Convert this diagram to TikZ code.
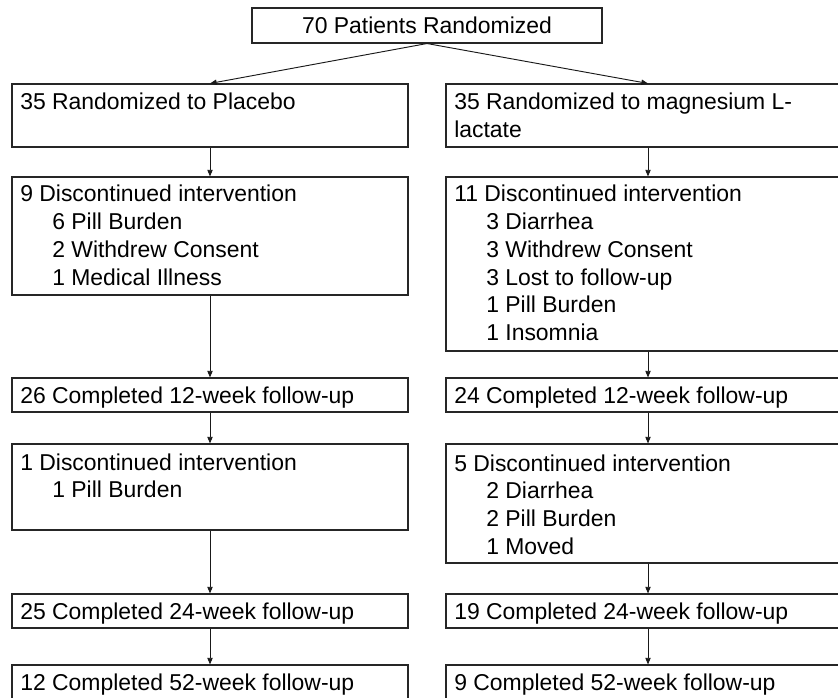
\documentclass[tikz,border=0pt]{standalone}
\usepackage{fontspec}
\setmainfont{Liberation Sans}
\usetikzlibrary{arrows.meta,fit,positioning}
\tikzset{
  boxfit/.style={draw=black!85, line width=0.8pt, inner sep=0pt},
  txt/.style={inner sep=0pt, anchor=base west, font=\fontsize{17.2pt}{20.8pt}\selectfont},
  arr/.style={draw=black!90, line width=0.7pt, -{Triangle[length=5pt,width=4pt]}}
}
\newcommand{\ind}{\hspace*{24pt}}
\newcommand{\lines}[1]{\parbox[t]{12cm}{\raggedright #1}}
\begin{document}
\begin{tikzpicture}[x=0.75pt,y=-0.75pt]
\useasboundingbox (0,0) rectangle (838,698);
\clip (0,0) rectangle (838,698);
% top box
\node[boxfit, fit={(252,8) (602,43)}] (top) {};
\node[txt, anchor=center, font=\fontsize{17.2pt}{20.8pt}\selectfont] (toptxt) at (top.center) {70 Patients Randomized};
% left column boxes
\node[boxfit, fit={(12,84) (408,147)}] (p1) {};
\node[boxfit, fit={(12,177) (408,295)}] (p2) {};
\node[boxfit, fit={(12,378) (408,412)}] (p3) {};
\node[boxfit, fit={(12,444) (408,530)}] (p4) {};
\node[boxfit, fit={(12,594) (408,628)}] (p5) {};
\node[boxfit, fit={(12,665) (408,720)}] (p6) {};
% right column boxes
\node[boxfit, fit={(446,84) (850,147)}] (m1) {};
\node[boxfit, fit={(446,177) (850,351)}] (m2) {};
\node[boxfit, fit={(446,378) (850,412)}] (m3) {};
\node[boxfit, fit={(446,444) (850,563)}] (m4) {};
\node[boxfit, fit={(446,594) (850,628)}] (m5) {};
\node[boxfit, fit={(446,665) (850,720)}] (m6) {};
% left texts
\node[txt] (p1t) at (20,110) {35 Randomized to Placebo};
\node[txt] (p2t) at (20,202) {\lines{9 Discontinued intervention\\\ind 6 Pill Burden\\\ind 2 Withdrew Consent\\\ind 1 Medical Illness}};
\node[txt] (p3t) at (20,403) {26 Completed 12-week follow-up};
\node[txt] (p4t) at (20,470) {\lines{1 Discontinued intervention\\\ind 1 Pill Burden}};
\node[txt] (p5t) at (20,619) {25 Completed 24-week follow-up};
\node[txt] (p6t) at (20,690) {12 Completed 52-week follow-up};
% right texts
\node[txt] (m1t) at (454,110) {\lines{35 Randomized to magnesium L-\\lactate}};
\node[txt] (m2t) at (454,202) {\lines{11 Discontinued intervention\\\ind 3 Diarrhea\\\ind 3 Withdrew Consent\\\ind 3 Lost to follow-up\\\ind 1 Pill Burden\\\ind 1 Insomnia}};
\node[txt] (m3t) at (454,403) {24 Completed 12-week follow-up};
\node[txt] (m4t) at (454,471) {\lines{5 Discontinued intervention\\\ind 2 Diarrhea\\\ind 2 Pill Burden\\\ind 1 Moved}};
\node[txt] (m5t) at (454,619) {19 Completed 24-week follow-up};
\node[txt] (m6t) at (454,690) {9 Completed 52-week follow-up};
% connectors
\coordinate (pc) at (210,0);
\coordinate (mc) at (648,0);
\draw[arr] (top.south) -- (pc |- p1.north);
\draw[arr] (top.south) -- (mc |- m1.north);
\draw[arr] (pc |- p1.south) -- (pc |- p2.north);
\draw[arr] (pc |- p2.south) -- (pc |- p3.north);
\draw[arr] (pc |- p3.south) -- (pc |- p4.north);
\draw[arr] (pc |- p4.south) -- (pc |- p5.north);
\draw[arr] (pc |- p5.south) -- (pc |- p6.north);
\draw[arr] (mc |- m1.south) -- (mc |- m2.north);
\draw[arr] (mc |- m2.south) -- (mc |- m3.north);
\draw[arr] (mc |- m3.south) -- (mc |- m4.north);
\draw[arr] (mc |- m4.south) -- (mc |- m5.north);
\draw[arr] (mc |- m5.south) -- (mc |- m6.north);
\end{tikzpicture}
\end{document}
